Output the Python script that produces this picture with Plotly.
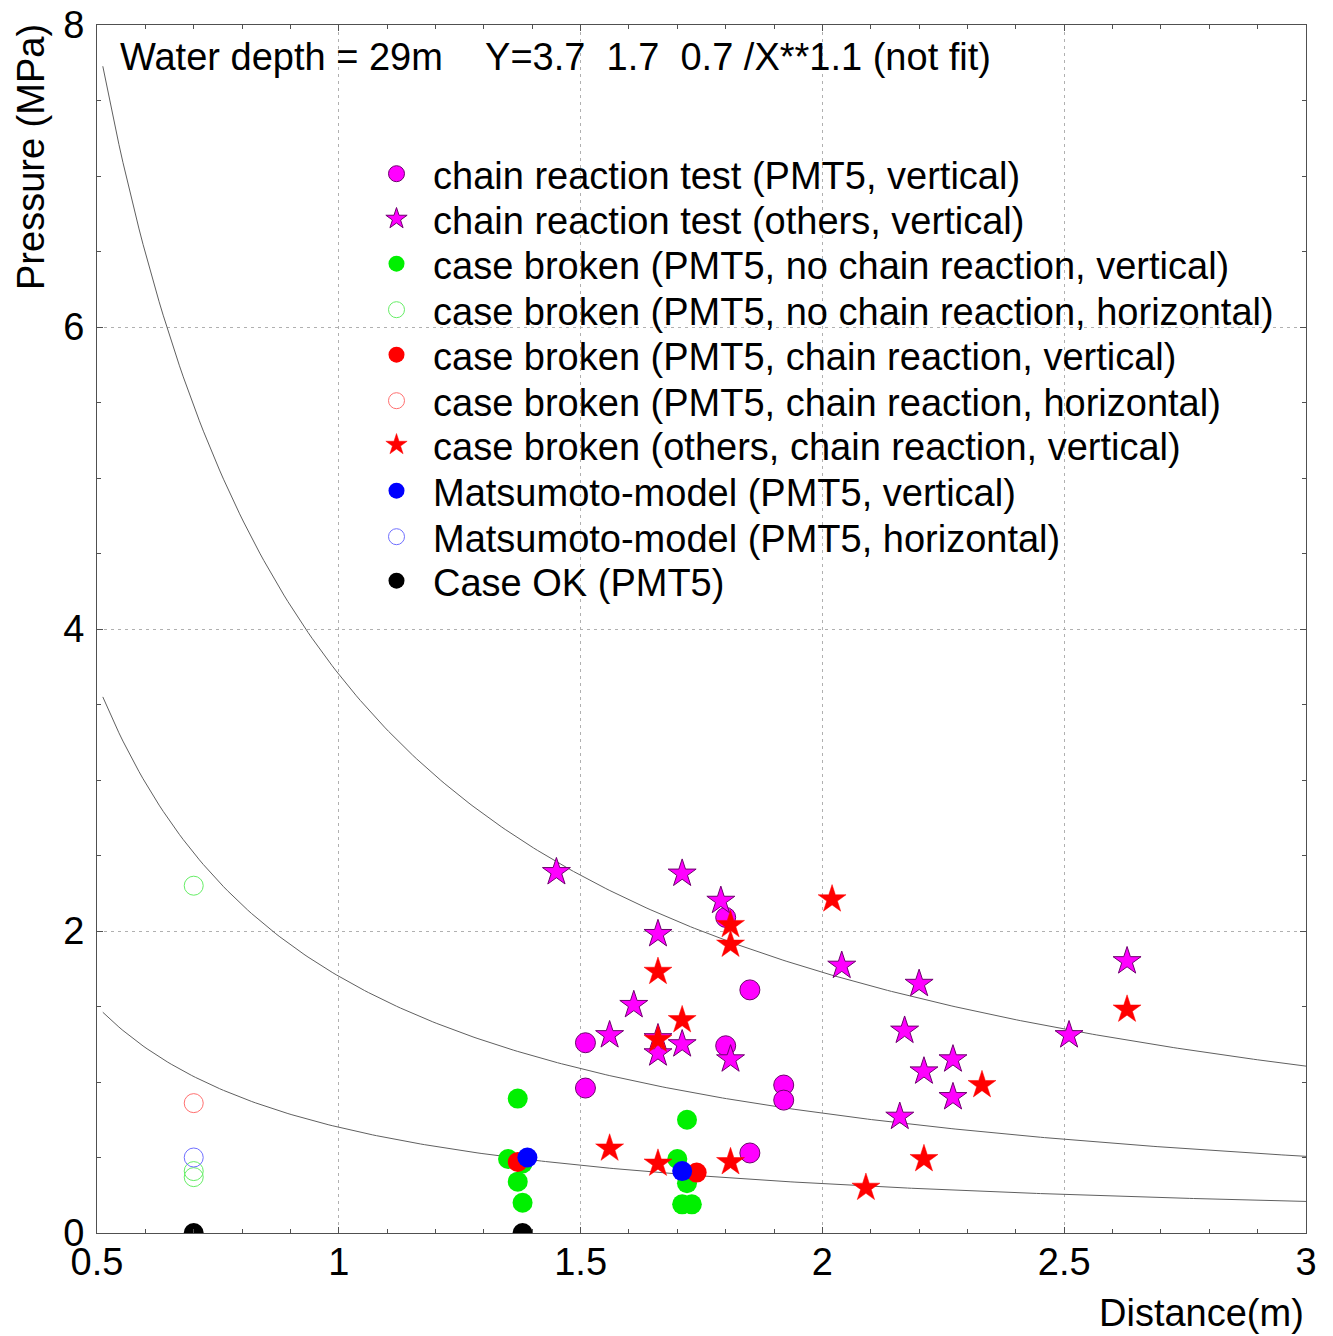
import numpy as np
import plotly.graph_objects as go

# ---- data ----
crt_pmt5_x = [1.51, 1.51, 1.80, 1.85, 1.80, 1.92, 1.92, 1.85]
crt_pmt5_y = [1.26, 0.96, 2.09, 1.61, 1.24, 0.98, 0.88, 0.53]

crt_oth_x = [1.45, 1.71, 1.79, 1.66, 1.61, 1.56, 1.66, 1.66, 1.71, 1.81,
             2.04, 2.20, 2.17, 2.27, 2.21, 2.27, 2.16, 2.51, 2.63]
crt_oth_y = [2.39, 2.38, 2.20, 1.98, 1.51, 1.31, 1.29, 1.19, 1.25, 1.15,
             1.77, 1.65, 1.34, 1.15, 1.07, 0.90, 0.77, 1.31, 1.80]

cb_nochain_v_x = [1.37, 1.35, 1.38, 1.37, 1.38, 1.72, 1.70, 1.72, 1.71, 1.73]
cb_nochain_v_y = [0.89, 0.49, 0.46, 0.34, 0.20, 0.75, 0.49, 0.33, 0.19, 0.19]

cb_nochain_h_x = [0.70, 0.70, 0.70]
cb_nochain_h_y = [2.30, 0.41, 0.37]

cb_chain_v_x = [1.37, 1.74]
cb_chain_v_y = [0.47, 0.40]

cb_chain_h_x = [0.70]
cb_chain_h_y = [0.86]

cb_oth_x = [1.81, 1.81, 1.66, 1.71, 1.66, 1.56, 1.66, 1.81, 2.02, 2.33, 2.21, 2.09, 2.63]
cb_oth_y = [2.04, 1.91, 1.73, 1.41, 1.28, 0.56, 0.46, 0.47, 2.21, 0.98, 0.49, 0.30, 1.48]

mm_v_x = [1.39, 1.71]
mm_v_y = [0.50, 0.41]

mm_h_x = [0.70]
mm_h_y = [0.50]

ok_x = [0.70, 1.38]
ok_y = [0.00, 0.00]

curve_coefs = [3.7, 1.7, 0.7]   # Y = A / X**1.1 (not fit)
curve_exp = 1.1

x_ticks = [0.5, 1, 1.5, 2, 2.5, 3]
x_tick_labels = ["0.5", "1", "1.5", "2", "2.5", "3"]
y_ticks = [0, 2, 4, 6, 8]
y_tick_labels = ["0", "2", "4", "6", "8"]

FONT = "Liberation Sans, Arial, Helvetica, sans-serif"
FS = 38

# page body has an 8px margin; compensate so the plot area lands at
# x 97..1306, y 25..1233 of the 1333x1336 window
OFF = 8
W, H = 1333 - OFF, 1336 - OFF
ML, MR, MT, MB = 97 - OFF, 27, 25 - OFF, 103
PW, PH = 1306 - 97, 1233 - 25


def px_x(px):
    return (px - 97) / PW


def px_y(py):
    return (1233 - py) / PH


fig = go.Figure()

xs = np.linspace(0.512, 3.0, 300)
for a in curve_coefs:
    fig.add_trace(go.Scatter(x=xs, y=a / xs ** curve_exp, mode="lines",
                             line=dict(color="#606060", width=1),
                             showlegend=False, hoverinfo="skip"))

purple_edge = dict(color="rgb(110,0,110)", width=1)

series = [
    ("chain reaction test (PMT5, vertical)", crt_pmt5_x, crt_pmt5_y,
     dict(symbol="circle", color="#ff00ff", size=20, line=purple_edge)),
    ("chain reaction test (others, vertical)", crt_oth_x, crt_oth_y,
     dict(symbol="star", color="#ff00ff", size=21, line=purple_edge)),
    ("case broken (PMT5, no chain reaction, vertical)", cb_nochain_v_x, cb_nochain_v_y,
     dict(symbol="circle", color="#00f000", size=20, line=dict(width=0))),
    ("case broken (PMT5, no chain reaction, horizontal)", cb_nochain_h_x, cb_nochain_h_y,
     dict(symbol="circle-open", color="#66ee66", size=19, line=dict(width=1))),
    ("case broken (PMT5, chain reaction, vertical)", cb_chain_v_x, cb_chain_v_y,
     dict(symbol="circle", color="#ff0000", size=20, line=dict(width=0))),
    ("case broken (PMT5, chain reaction, horizontal)", cb_chain_h_x, cb_chain_h_y,
     dict(symbol="circle-open", color="#ff7070", size=19, line=dict(width=1))),
    ("case broken (others, chain reaction, vertical)", cb_oth_x, cb_oth_y,
     dict(symbol="star", color="#ff0000", size=21, line=dict(color="#ff0000", width=0.5))),
    ("Matsumoto-model (PMT5, vertical)", mm_v_x, mm_v_y,
     dict(symbol="circle", color="#0000ff", size=20, line=dict(width=0))),
    ("Matsumoto-model (PMT5, horizontal)", mm_h_x, mm_h_y,
     dict(symbol="circle-open", color="#7070ff", size=19, line=dict(width=1))),
    ("Case OK (PMT5)", ok_x, ok_y,
     dict(symbol="circle", color="#000000", size=20, line=dict(width=0))),
]

legend_rows_px = [174, 219, 264, 310, 355, 401, 445, 491, 537, 581]
legend_left_px = 360

layout_legends = {}
for i, (name, x, y, mk) in enumerate(series):
    lname = "legend" if i == 0 else f"legend{i + 1}"
    fig.add_trace(go.Scatter(x=x, y=y, mode="markers", name=name, marker=mk,
                             legend=lname))
    layout_legends[lname] = dict(
        x=px_x(legend_left_px), y=px_y(legend_rows_px[i]),
        xanchor="left", yanchor="middle",
        bgcolor="rgba(0,0,0,0)", borderwidth=0,
        font=dict(family=FONT, size=FS, color="black"),
        itemwidth=63)

axis_common = dict(
    showline=True, linecolor="#505050", linewidth=1, mirror="ticks",
    ticks="inside", ticklen=6, tickcolor="#505050", tickwidth=1,
    showgrid=True, gridcolor="#b0b0b0", gridwidth=1, griddash="3px,4px",
    zeroline=False, automargin=False, ticklabeloverflow="allow",
    tickfont=dict(family=FONT, size=FS, color="black"),
)

fig.update_xaxes(range=[0.5, 3], tickvals=x_ticks, ticktext=x_tick_labels,
                 ticklabelstandoff=-5,
                 minor=dict(dtick=0.1, tick0=0.5, ticks="inside", ticklen=4,
                            tickcolor="#505050", showgrid=False),
                 **axis_common)
fig.update_yaxes(range=[0, 8], tickvals=y_ticks, ticktext=y_tick_labels,
                 ticklabelstandoff=4,
                 minor=dict(dtick=0.5, tick0=0, ticks="inside", ticklen=4,
                            tickcolor="#505050", showgrid=False),
                 **axis_common)

fig.add_annotation(
    text="Water depth = 29m\u00a0\u00a0\u00a0\u00a0Y=3.7\u00a0\u00a01.7\u00a0\u00a00.7 /X**1.1 (not fit)",
    xref="paper", yref="paper", x=px_x(118), y=px_y(57),
    xanchor="left", yanchor="middle", showarrow=False,
    font=dict(family=FONT, size=FS, color="black"))

fig.add_annotation(text="Pressure (MPa)", textangle=-90,
                   xref="paper", yref="paper", x=px_x(31), y=px_y(22),
                   xanchor="center", yanchor="top", showarrow=False,
                   font=dict(family=FONT, size=FS, color="black"))

fig.add_annotation(text="Distance(m)", xref="paper", yref="paper",
                   x=1.0, y=px_y(1313), xanchor="right", yanchor="middle",
                   showarrow=False, font=dict(family=FONT, size=FS, color="black"))

fig.update_layout(
    width=W, height=H,
    margin=dict(l=ML, r=MR, t=MT, b=MB, autoexpand=False),
    plot_bgcolor="white", paper_bgcolor="white",
    font=dict(family=FONT, size=FS, color="black"),
    showlegend=True,
    **layout_legends,
)

fig.write_html("out.html")
